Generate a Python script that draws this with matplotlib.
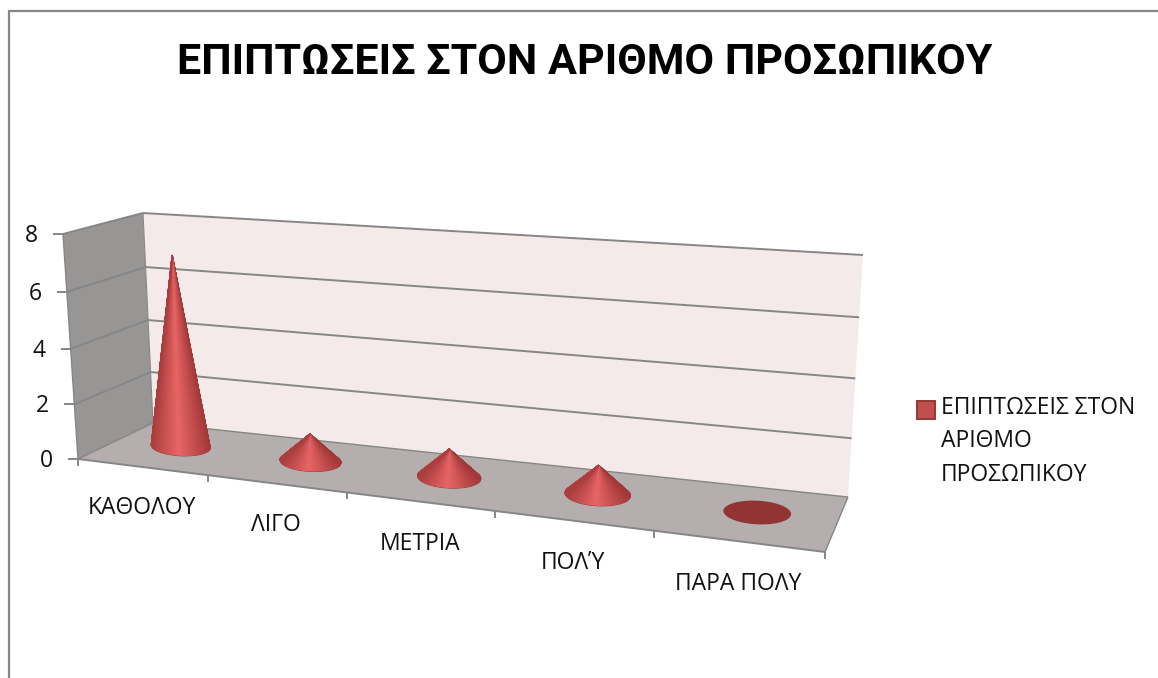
import numpy as np
import matplotlib
matplotlib.use("Agg")
import matplotlib.pyplot as plt
from matplotlib.colors import LinearSegmentedColormap
from matplotlib.patches import Polygon, Rectangle
from matplotlib.legend_handler import HandlerPatch

# ---- data
title = "ΕΠΙΠΤΩΣΕΙΣ ΣΤΟΝ ΑΡΙΘΜΟ ΠΡΟΣΩΠΙΚΟΥ"
categories = ["ΚΑΘΟΛΟΥ", "ΛΙΓΟ", "ΜΕΤΡΙΑ", "ΠΟΛΎ", "ΠΑΡΑ ΠΟΛΥ"]
values = [7, 1, 1, 1, 0]
value_ticks = [0, 2, 4, 6, 8]
series_label = "ΕΠΙΠΤΩΣΕΙΣ ΣΤΟΝ\nΑΡΙΘΜΟ\nΠΡΟΣΩΠΙΚΟΥ"

# ---- 3D box projection (pixel space of the figure)
FL0, FR0, FL8, FR8 = map(np.array, [(78, 459), (825, 552), (63, 234), (842, 292)])
BL0, BR0, BL8, BR8 = map(np.array, [(153, 423), (848, 497), (143, 213), (863, 255)])
VMAX = 8
NCAT = len(categories)
PERSP = 1.187
PERSP_V = 1.04


def project(u, d, v):
    s = u / NCAT
    f = s / (s + PERSP * (1 - s))
    r = v / VMAX
    h = r / (r + PERSP_V * (1 - r))
    front = (FL0 * (1 - f) + FR0 * f) * (1 - h) + (FL8 * (1 - f) + FR8 * f) * h
    back = (BL0 * (1 - f) + BR0 * f) * (1 - h) + (BL8 * (1 - f) + BR8 * f) * h
    return front * (1 - d) + back * d


fig = plt.figure(figsize=(11.58, 6.78), dpi=100, facecolor="white")
ax = fig.add_axes([0, 0, 1, 1])
ax.set_xlim(0, 1158)
ax.set_ylim(678, 0)
ax.axis("off")

FONT = "Open Sans"
GREY = "#868686"
LW = 1.4

# chart frame
ax.plot([9, 9, 1158], [678, 11, 11], color=GREY, lw=1.6, zorder=1, solid_joinstyle="miter")

# walls
ax.add_patch(Polygon([project(0, 0, 0), project(0, 0, VMAX), project(0, 1, VMAX), project(0, 1, 0)],
                     fc="#989595", ec="none", zorder=2))
ax.add_patch(Polygon([project(0, 1, 0), project(0, 1, VMAX), project(NCAT, 1, VMAX), project(NCAT, 1, 0)],
                     fc="#f5eaea", ec="none", zorder=2))
# floor
ax.add_patch(Polygon([project(0, 0, 0), project(NCAT, 0, 0), project(NCAT, 1, 0), project(0, 1, 0)],
                     fc="#b5aeae", ec="none", zorder=3))


def seg(a, b, **kw):
    kw.setdefault("color", GREY)
    kw.setdefault("lw", LW)
    ax.plot([a[0], b[0]], [a[1], b[1]], solid_capstyle="butt", **kw)


# grid lines and value ticks
for v in value_ticks:
    p_front, p_back, p_right = project(0, 0, v), project(0, 1, v), project(NCAT, 1, v)
    if v > 0:
        seg(p_front, p_back, zorder=4)
        seg(p_back, p_right, zorder=4)
    tick_left = p_front[0] - 10
    seg((tick_left, p_front[1]), p_front, zorder=4)
    ax.text(tick_left - 15, p_front[1] + 2, str(v), ha="right", va="center",
            fontsize=16.5, family=FONT, color="#111111", zorder=6)

# box edges
seg(project(0, 0, 0), project(0, 0, VMAX), zorder=4, lw=1.0)
seg(project(0, 1, 0), project(0, 1, VMAX), zorder=4, lw=0.8)
seg(project(0, 0, 0), project(0, 1, 0), zorder=4, lw=1.0)
seg(project(0, 1, 0), project(NCAT, 1, 0), zorder=4, lw=1.0)
seg(project(NCAT, 0, 0), project(NCAT, 1, 0), zorder=4, lw=1.0)
seg(project(0, 0, 0), project(NCAT, 0, 0), zorder=4)

# category ticks and labels
for i in range(NCAT + 1):
    p = project(i, 0, 0)
    seg(p, (p[0], p[1] + 7), zorder=4)
for i, name in enumerate(categories):
    p = project(i + 0.5, 0, 0)
    ax.text(p[0], p[1] + 41 + 0.5 * i, name, ha="center", va="center", fontsize=16.5,
            family=FONT, color="#111111", zorder=6)

# cones
cone_cmap = LinearSegmentedColormap.from_list("cone", ["#a23838", "#e86565"])
RIM = "#933434"

for i, val in enumerate(values):
    pos = i + 0.5 + 0.005 * i
    c = project(pos, 0.55, 0)
    rx = 29.5 + 1.1 * i
    ry = 9 + 0.7 * i
    tilt = np.deg2rad(3)

    def rim_pts(th):
        ex, ey = rx * np.cos(th), ry * np.sin(th)
        return (c[0] + ex * np.cos(tilt) - ey * np.sin(tilt),
                c[1] + ex * np.sin(tilt) + ey * np.cos(tilt))

    full = np.linspace(0, 2 * np.pi, 181)
    bx, by = rim_pts(full)
    ax.add_patch(Polygon(np.column_stack([bx, by + (1 if val > 0 else 0)]), fc=RIM, ec="none", zorder=5))
    if val > 0:
        apex = project(pos, 0.55, val)
        alpha = np.arcsin(min(1.0, ry / (c[1] - apex[1])))
        th = np.linspace(-alpha, np.pi + alpha, 121)
        tx, ty = rim_pts(th)
        X = np.vstack([tx, np.full_like(tx, apex[0])])
        Y = np.vstack([ty, np.full_like(ty, apex[1])])
        w = np.clip(1 - np.abs(np.cos(th) + 0.05) / 1.05, 0, 1) ** 0.9
        C = np.vstack([w, w])
        ax.pcolormesh(X, Y, C, shading="gouraud", cmap=cone_cmap, vmin=0, vmax=1, zorder=5.1)

# title
ax.text(585, 63, title, ha="center", va="center", fontsize=31, fontweight="bold",
        family="Roboto", color="black", zorder=6)


# legend
def legend_swatch(legend, orig_handle, xdescent, ydescent, width, height, fontsize):
    return Rectangle((xdescent, ydescent + 22.3), width, width)


ax.legend(handles=[Rectangle((0, 0), 1, 1, fc="#c0504d", ec="#953735", lw=1.4, label=series_label)],
          handler_map={Rectangle: HandlerPatch(patch_func=legend_swatch)},
          loc="upper left", bbox_to_anchor=(917, 396), bbox_transform=ax.transData,
          frameon=False, borderpad=0, borderaxespad=0, handlelength=0.79, handleheight=0.79,
          handletextpad=0.26, labelspacing=0, prop={"family": FONT, "size": 16.5})
leg = ax.get_legend()
for t in leg.get_texts():
    t.set_linespacing(1.52)
    t.set_color("#111111")

ax.set_xlim(0, 1158)
ax.set_ylim(678, 0)
fig.savefig("out.png", dpi=100)
